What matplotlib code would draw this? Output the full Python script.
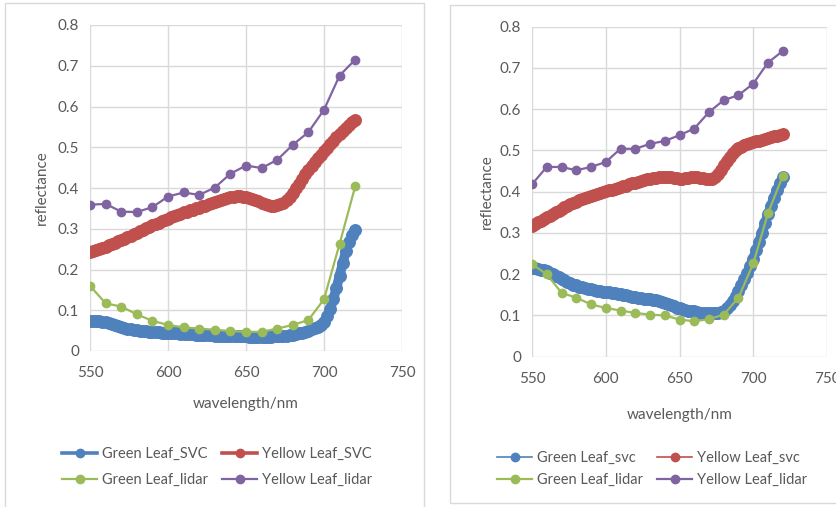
import numpy as np
import matplotlib
matplotlib.use("Agg")
import matplotlib.pyplot as plt
from matplotlib.lines import Line2D
from matplotlib.patches import Rectangle

plt.rcParams["font.family"] = ["Lato", "DejaVu Sans"]

# ---------------- data ----------------
# SVC spectrometer curves, sampled every 2 nm from 550 to 720 nm
svc_wavelength = np.arange(550, 721, 2)
# lidar samples every 10 nm
lidar_wavelength = np.arange(550, 721, 10)

# left panel
left_green_svc = [
    0.073, 0.074, 0.074, 0.073, 0.072, 0.071, 0.068, 0.066, 0.063, 0.061,
    0.059, 0.057, 0.055, 0.053, 0.052, 0.051, 0.050, 0.049, 0.048, 0.047,
    0.047, 0.046, 0.046, 0.045, 0.045, 0.044, 0.044, 0.043, 0.043, 0.042,
    0.042, 0.041, 0.041, 0.041, 0.040, 0.040, 0.040, 0.039, 0.039, 0.039,
    0.038, 0.038, 0.038, 0.037, 0.037, 0.037, 0.037, 0.036, 0.036, 0.036,
    0.036, 0.035, 0.035, 0.035, 0.035, 0.035, 0.035, 0.035, 0.035, 0.036,
    0.036, 0.037, 0.037, 0.038, 0.039, 0.040, 0.041, 0.043, 0.045, 0.047,
    0.050, 0.053, 0.056, 0.060, 0.065, 0.072, 0.085, 0.103, 0.127, 0.155,
    0.185, 0.215, 0.245, 0.268, 0.285, 0.298,
]
left_yellow_svc = [
    0.244, 0.246, 0.248, 0.251, 0.253, 0.256, 0.259, 0.262, 0.265, 0.269,
    0.272, 0.276, 0.279, 0.283, 0.286, 0.290, 0.294, 0.297, 0.301, 0.304,
    0.308, 0.311, 0.315, 0.318, 0.322, 0.325, 0.328, 0.331, 0.334, 0.337,
    0.340, 0.342, 0.345, 0.347, 0.350, 0.352, 0.355, 0.357, 0.360, 0.362,
    0.365, 0.367, 0.370, 0.372, 0.375, 0.377, 0.379, 0.380, 0.380, 0.379,
    0.378, 0.376, 0.374, 0.370, 0.367, 0.363, 0.361, 0.359, 0.357, 0.357,
    0.358, 0.360, 0.364, 0.370, 0.378, 0.388, 0.399, 0.411, 0.422, 0.434,
    0.445, 0.455, 0.465, 0.474, 0.482, 0.490, 0.499, 0.508, 0.516, 0.525,
    0.533, 0.541, 0.548, 0.555, 0.561, 0.567,
]
left_green_lidar = [
    0.160, 0.117, 0.109, 0.090, 0.074, 0.064, 0.058, 0.055, 0.052, 0.049,
    0.047, 0.047, 0.055, 0.064, 0.076, 0.127, 0.263, 0.404,
]
left_yellow_lidar = [
    0.359, 0.361, 0.342, 0.341, 0.353, 0.379, 0.389, 0.383, 0.401, 0.435,
    0.455, 0.449, 0.469, 0.506, 0.537, 0.592, 0.676, 0.715,
]

# right panel
right_green_svc = [
    0.214, 0.214, 0.213, 0.211, 0.209, 0.207, 0.204, 0.200, 0.196, 0.193,
    0.189, 0.185, 0.182, 0.178, 0.175, 0.173, 0.170, 0.168, 0.166, 0.164,
    0.163, 0.162, 0.160, 0.159, 0.158, 0.157, 0.156, 0.155, 0.154, 0.153,
    0.152, 0.150, 0.149, 0.147, 0.145, 0.144, 0.143, 0.142, 0.141, 0.141,
    0.140, 0.138, 0.137, 0.135, 0.133, 0.131, 0.128, 0.125, 0.122, 0.119,
    0.117, 0.115, 0.113, 0.112, 0.111, 0.110, 0.109, 0.107, 0.106, 0.105,
    0.105, 0.105, 0.105, 0.107, 0.109, 0.112, 0.117, 0.125, 0.136, 0.147,
    0.160, 0.174, 0.188, 0.203, 0.220, 0.238, 0.258, 0.279, 0.301, 0.323,
    0.345, 0.365, 0.385, 0.403, 0.420, 0.435,
]
right_yellow_svc = [
    0.318, 0.322, 0.326, 0.330, 0.334, 0.338, 0.342, 0.346, 0.350, 0.354,
    0.358, 0.362, 0.366, 0.369, 0.373, 0.376, 0.379, 0.382, 0.385, 0.387,
    0.390, 0.392, 0.394, 0.397, 0.399, 0.401, 0.403, 0.405, 0.407, 0.409,
    0.411, 0.413, 0.415, 0.418, 0.420, 0.422, 0.424, 0.426, 0.428, 0.430,
    0.432, 0.433, 0.434, 0.435, 0.436, 0.436, 0.436, 0.435, 0.434, 0.433,
    0.432, 0.432, 0.433, 0.434, 0.435, 0.435, 0.435, 0.434, 0.433, 0.431,
    0.430, 0.431, 0.435, 0.443, 0.453, 0.465, 0.475, 0.485, 0.493, 0.500,
    0.505, 0.509, 0.512, 0.515, 0.518, 0.520, 0.522, 0.524, 0.526, 0.528,
    0.530, 0.532, 0.534, 0.536, 0.538, 0.540,
]
right_green_lidar = [
    0.224, 0.200, 0.155, 0.143, 0.127, 0.118, 0.112, 0.106, 0.102, 0.100,
    0.090, 0.086, 0.091, 0.102, 0.143, 0.226, 0.348, 0.438,
]
right_yellow_lidar = [
    0.418, 0.460, 0.460, 0.452, 0.460, 0.472, 0.504, 0.504, 0.516, 0.523,
    0.537, 0.553, 0.593, 0.622, 0.634, 0.662, 0.713, 0.741,
]

x_ticks = [550, 600, 650, 700, 750]
y_ticks = [0, 0.1, 0.2, 0.3, 0.4, 0.5, 0.6, 0.7, 0.8]
y_tick_labels = ["0", "0.1", "0.2", "0.3", "0.4", "0.5", "0.6", "0.7", "0.8"]

left_labels = ["Green Leaf_SVC", "Yellow Leaf_SVC", "Green Leaf_lidar", "Yellow Leaf_lidar"]
right_labels = ["Green Leaf_svc", "Yellow Leaf_svc", "Green Leaf_lidar", "Yellow Leaf_lidar"]

# ---------------- styling ----------------
BLUE = "#4F81BD"
RED = "#C0504D"
GREEN = "#9BBB59"
PURPLE = "#8064A2"
GRID = "#D9D9D9"
TEXT = "#595959"

W, H = 836, 507
fig = plt.figure(figsize=(W / 100, H / 100), dpi=100)
fig.patch.set_facecolor("white")


def px_rect(x0, y0, x1, y1):
    """Figure-fraction [left, bottom, width, height] from pixel box (top-left origin)."""
    return [x0 / W, 1 - y1 / H, (x1 - x0) / W, (y1 - y0) / H]


def panel(box, ax_box, series, labels, legend_lw, ylab_x, xlab_y, legend_anchor, legend_spacing):
    # light frame around the chart
    fig.add_artist(Rectangle((box[0] / W, 1 - box[3] / H),
                             (box[2] - box[0]) / W, (box[3] - box[1]) / H,
                             transform=fig.transFigure, fill=False,
                             edgecolor=GRID, linewidth=1.0, zorder=0))
    ax = fig.add_axes(px_rect(*ax_box))
    g_svc, y_svc, g_lid, y_lid = series
    # dense SVC samples: overlapping markers form a thick band
    ax.plot(svc_wavelength, g_svc, color=BLUE, lw=7, marker="o",
            ms=8.3, mec=BLUE, mfc=BLUE, zorder=3, solid_capstyle="round")
    ax.plot(svc_wavelength, y_svc, color=RED, lw=7, marker="o",
            ms=8.3, mec=RED, mfc=RED, zorder=3, solid_capstyle="round")
    ax.plot(lidar_wavelength, g_lid, color=GREEN, lw=1.6, marker="o",
            ms=6, mec=GREEN, mfc=GREEN, zorder=4)
    ax.plot(lidar_wavelength, y_lid, color=PURPLE, lw=1.6, marker="o",
            ms=6, mec=PURPLE, mfc=PURPLE, zorder=4)

    ax.set_xlim(550, 750)
    ax.set_ylim(0, 0.8)
    ax.set_xticks(x_ticks)
    ax.set_yticks(y_ticks)
    ax.set_yticklabels(y_tick_labels)
    ax.grid(True, color=GRID, linewidth=1.0)
    ax.set_axisbelow(True)
    for s in ax.spines.values():
        s.set_visible(False)
    ax.tick_params(length=0, labelsize=11, colors=TEXT)
    ax.tick_params(axis="y", pad=8)
    ax.tick_params(axis="x", pad=11)
    ax.set_facecolor("white")

    fig.text(ylab_x / W, 1 - (ax_box[1] + ax_box[3]) / 2 / H, "reflectance",
             rotation=90, ha="center", va="center", fontsize=11, color=TEXT)
    fig.text((ax_box[0] + ax_box[2]) / 2 / W, 1 - xlab_y / H, "wavelength/nm",
             ha="center", va="center", fontsize=11, color=TEXT)

    handles = [
        Line2D([], [], color=BLUE, lw=legend_lw, marker="o", ms=6),
        Line2D([], [], color=GREEN, lw=1.6, marker="o", ms=6),
        Line2D([], [], color=RED, lw=legend_lw, marker="o", ms=6),
        Line2D([], [], color=PURPLE, lw=1.6, marker="o", ms=6),
    ]
    names = [labels[0], labels[2], labels[1], labels[3]]
    fig.legend(handles, names, ncol=2, loc="center",
               bbox_to_anchor=(legend_anchor[0] / W, 1 - legend_anchor[1] / H),
               frameon=False, fontsize=10.5, labelcolor=TEXT,
               handlelength=2.4, handletextpad=0.3, columnspacing=1.0,
               labelspacing=legend_spacing, borderpad=0)
    return ax


panel((5, 3, 424, 520), (90, 25, 402, 351),
      (left_green_svc, left_yellow_svc, left_green_lidar, left_yellow_lidar),
      left_labels, 2.6, 42, 404, (217, 467), 0.8)

panel((450, 5, 860, 503), (532, 26.7, 827, 356.7),
      (right_green_svc, right_yellow_svc, right_green_lidar, right_yellow_lidar),
      right_labels, 1.2, 487, 415, (652, 469), 0.6)

fig.savefig("out.png", dpi=100, facecolor="white")
